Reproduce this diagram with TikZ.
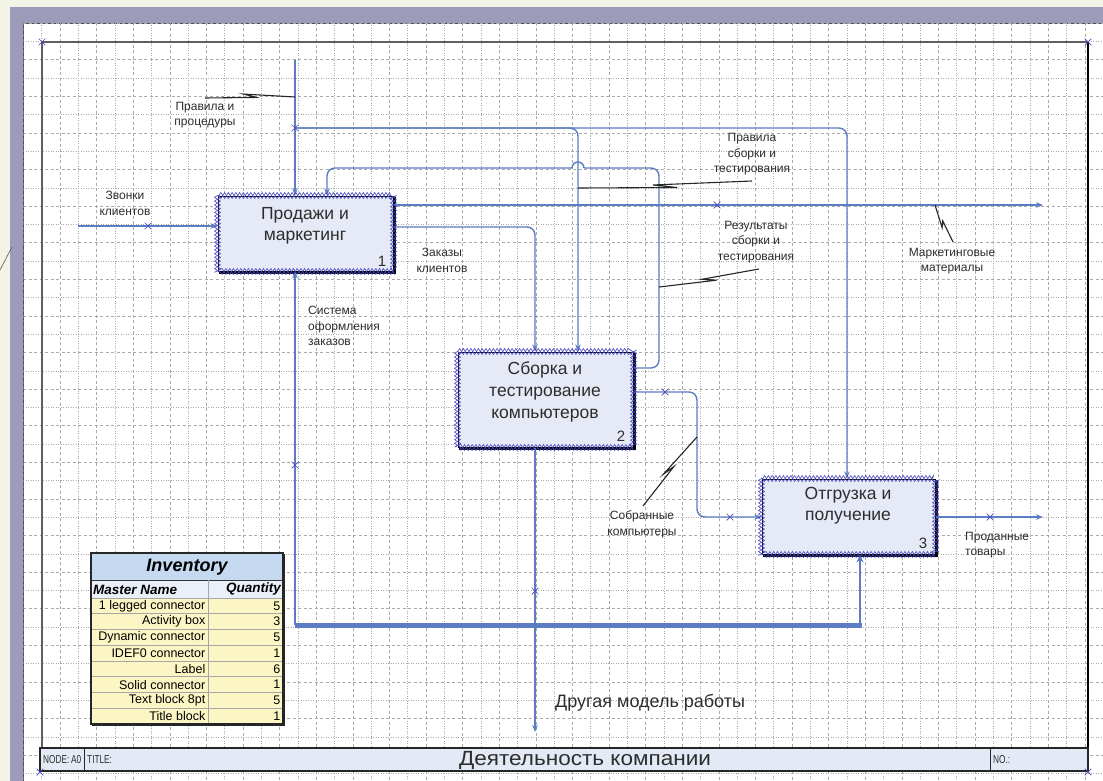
\documentclass[tikz,border=0pt]{standalone}
\usepackage{fontspec}
\usepackage{graphicx}
\setmainfont{Liberation Sans}
\usetikzlibrary{arrows.meta,calc,decorations.pathmorphing,shapes.misc}
\definecolor{cblue}{RGB}{92,124,196}
\definecolor{chainc}{RGB}{70,70,190}
\definecolor{boxfill}{RGB}{230,234,246}
\definecolor{beige}{RGB}{244,244,230}
\definecolor{band}{RGB}{156,156,186}
\definecolor{gridc}{RGB}{170,170,170}
\definecolor{tfill}{RGB}{228,234,245}
\definecolor{invtitle}{RGB}{197,217,241}
\definecolor{invhead}{RGB}{234,240,250}
\definecolor{invrow}{RGB}{252,246,196}
\definecolor{framec}{RGB}{95,95,95}
\definecolor{txt}{RGB}{45,45,45}
\newcommand\leadsq[2]{\draw[leadline] (#1) -- ($(#1)!0.57!(#2)$) -- ($(#1)!0.43!(#2)!3.5pt!90:(#2)$) -- (#2);}
\begin{document}
\begin{tikzpicture}[x=1pt,y=-1pt,
  conn/.style={draw=cblue,line width=1.4pt},
  arr/.style={-{Stealth[length=7pt,width=5.5pt]}},
  thickbar/.style={draw=cblue,line width=5pt},
  abox/.style={draw=black,line width=1pt,fill=boxfill,inner sep=0pt},
  xchainA/.style={draw=chainc,line width=0.6pt,decorate,decoration={zigzag,segment length=7.5pt,amplitude=3pt}},
  xchainB/.style={draw=chainc,line width=0.6pt,decorate,decoration={zigzag,segment length=7.5pt,amplitude=-3pt}},
  xmk/.style={draw=chainc,cross out,minimum size=6pt,inner sep=0pt,line width=0.7pt},
  boxtxt/.style={font=\fontsize{17.5}{21}\selectfont,align=center,inner sep=0pt,text=txt},
  numtxt/.style={font=\fontsize{15}{15}\selectfont,inner sep=0pt,text=txt},
  lbl/.style={font=\fontsize{12}{15.5}\selectfont,align=center,inner sep=0pt,text=txt},
  leadline/.style={draw=black!85,line width=1.1pt},
  gridA/.style={draw=gridc,line width=0.5pt,dash pattern=on 3pt off 2.5pt},
  gridB/.style={draw=gridc,line width=0.5pt,dash pattern=on 1pt off 1.5pt},
  bartxt/.style={font=\fontsize{11.5}{12}\selectfont,inner sep=0pt,text=txt},
  rowtxt/.style={font=\fontsize{12.5}{13}\selectfont,inner sep=0pt,text=black},
  headtxt/.style={font=\fontsize{13.5}{14}\bfseries\itshape\selectfont,inner sep=0pt,text=black}
]
\useasboundingbox (0,0) rectangle (1103,781);
% background and page
\fill[beige] (0,0) rectangle (1103,781);
\fill[band] (10,7) rectangle (1103,781);
\fill[white] (23,23) rectangle (1103,781);
\draw[black!70,line width=0.8pt] (23,781) -- (23,23) -- (1103,23);
\draw[gray!70!black,line width=0.6pt] (0,270) -- (12,247);
% grid
\begin{scope}
\clip (23.5,23.5) rectangle (1103,781);
\foreach \i in {0,...,59} {
  \pgfmathsetmacro\gx{23.4+18.3*\i}
  \ifodd\i \draw[gridB] (\gx,23) -- (\gx,781); \else \draw[gridA] (\gx,23) -- (\gx,781); \fi
}
\foreach \i in {0,...,42} {
  \pgfmathsetmacro\gy{23.1+18.3*\i}
  \ifodd\i \draw[gridB] (23,\gy) -- (1103,\gy); \else \draw[gridA] (23,\gy) -- (1103,\gy); \fi
}
\end{scope}
% frame
\draw[framec,line width=2.4pt] (42,42) -- (1088,42);
\draw[framec,line width=2.4pt] (42,42) -- (42,748);
\draw[black,line width=1.3pt] (1088,42) -- (1088,771);
% title bar
\draw[fill=tfill,draw=black!85,line width=1.1pt] (40,748) rectangle (1088,771);
\draw[black!85,line width=0.9pt] (84,748) -- (84,771);
\draw[black!85,line width=0.9pt] (990,748) -- (990,771);
\node[bartxt,anchor=west] (nodeL) at (43,760) {\scalebox{0.72}[1]{NODE:}};
\node[bartxt,anchor=west] (nodeV) at (71,760) {\scalebox{0.72}[1]{A0}};
\node[bartxt,anchor=west] (titleL) at (87,760) {\scalebox{0.72}[1]{TITLE:}};
\node[inner sep=0pt,text=txt,font=\fontsize{20.5}{22}\selectfont] (titleT) at (585,760) {\scalebox{1.1}[1]{Деятельность компании}};
\node[bartxt,anchor=west] (noL) at (993,760) {\scalebox{0.72}[1]{NO.:}};
\node[xmk] (fx1) at (42,42) {};
\node[xmk] (fx2) at (1088,42) {};
\node[xmk] (fx3) at (40,772) {};
\node[xmk] (fx4) at (1088,772) {};
% helper coordinates
\coordinate (x295) at (295,0);
\coordinate (x327) at (327,0);
\coordinate (x535) at (535,0);
\coordinate (x578) at (578,0);
\coordinate (x659) at (659,0);
\coordinate (x697) at (697,0);
\coordinate (x847) at (847,0);
\coordinate (x860) at (860,0);
\coordinate (y168) at (0,168);
\coordinate (y205) at (0,205);
\coordinate (y227) at (0,227);
\coordinate (y368) at (0,368);
\coordinate (y392) at (0,392);
\coordinate (y517) at (0,517);
% boxes
\node[abox,minimum width=175pt,minimum height=75pt] (b1) at (305.5,233.5) {};
\node[abox,minimum width=175pt,minimum height=95pt] (b2) at (545.5,399.5) {};
\node[abox,minimum width=173pt,minimum height=75pt] (b3) at (848.5,516.5) {};
\foreach \b in {b1,b2,b3} {
  \draw[black,line width=2pt] ($(\b.south west)+(1,1)$) -- ($(\b.south east)+(1,1)$) -- ($(\b.north east)+(1,1)$);
}
% connectors
\coordinate (in1) at (78,226);
\draw[conn,arr] (in1) -- (b1.west |- in1);
\coordinate (c1) at (295,60);
\draw[conn,arr] (c1) -- (b1.north -| c1);
\coordinate (j1) at (295,128);
\draw[conn,arr,rounded corners=8pt] (j1) -| (b2.north -| x578);
\draw[conn,arr,rounded corners=8pt] (j1) -| (b3.north -| x847);
\coordinate (h1) at (584,168);
\coordinate (h2) at (572,168);
\draw[conn,rounded corners=8pt] (b2.east |- y368) -- (x659 |- y368) -- (x659 |- y168) -- (h1);
\draw[conn] (h1) arc[start angle=0,end angle=-180,radius=6];
\draw[conn,arr,rounded corners=8pt] (h2) -- (x327 |- y168) -- (b1.north -| x327);
\coordinate (mo) at (1043,205);
\draw[conn,arr] (b1.east |- y205) -- (mo);
\draw[conn,arr,rounded corners=8pt] (b1.east |- y227) -| (b2.north -| x535);
\coordinate (m1) at (295,625);
\coordinate (m2) at (862,625);
\draw[conn,arr] (m1) -- (b1.south -| m1);
\draw[draw=cblue,line width=2.2pt,-{Stealth[length=8pt,width=7pt]}] (x860 |- m2) -- (b3.south -| x860);
\draw[thickbar] (m1) -- (m2);
\coordinate (o2) at (535,732);
\draw[conn,arr] (b2.south -| x535) -- (o2);
\draw[conn,arr,rounded corners=8pt] (b2.east |- y392) -- (x697 |- y392) -- (x697 |- y517) -- (b3.west |- y517);
\coordinate (o3) at (1043,517);
\draw[conn,arr] (b3.east |- y517) -- (o3);
% box chains
\foreach \b in {b1,b2,b3} {
  \draw[xchainA] (\b.north west) rectangle (\b.south east);
  \draw[xchainB] (\b.north west) rectangle (\b.south east);
}
% box texts
\node[boxtxt] (t1) at (305,226) {Продажи и\\маркетинг};
\node[boxtxt,font=\fontsize{17.5}{22}\selectfont] (t2) at (545,392) {Сборка и\\тестирование\\компьютеров};
\node[boxtxt] (t3) at (848,506) {Отгрузка и\\получение};
\node[numtxt] (n1) at (382,261) {1};
\node[numtxt] (n2) at (621,436) {2};
\node[numtxt] (n3) at (923,543) {3};
% x marks
\node[xmk] (xm1) at (148,226) {};
\node[xmk] (xm2) at (295,128) {};
\node[xmk] (xm3) at (295,465) {};
\node[xmk] (xm4) at (717,205) {};
\node[xmk] (xm5) at (535,591) {};
\node[xmk] (xm6) at (665,392) {};
\node[xmk] (xm7) at (730,517) {};
\node[xmk] (xm8) at (990,517) {};
% labels
\node[lbl] (l1) at (125,203.5) {Звонки\\клиентов};
\node[lbl] (l2) at (205,115) {Правила и\\процедуры};
\node[lbl] (l3) at (752,154.5) {Правила\\сборки и\\тестирования};
\node[lbl] (l4) at (756,242) {Результаты\\сборки и\\тестирования};
\node[lbl] (l5) at (952,261) {Маркетинговые\\материалы};
\node[lbl] (l6) at (442,260.5) {Заказы\\клиентов};
\node[lbl,align=left,anchor=north west] (l7) at (308,306) {Система\\оформления\\заказов};
\node[lbl] (l8) at (642,524.5) {Собранные\\компьютеры};
\node[lbl,align=left,anchor=north west] (l9) at (965,532) {Проданные\\товары};
\node[inner sep=0pt,text=txt,font=\fontsize{18}{20}\selectfont,anchor=west] (l10) at (555,703) {Другая модель работы};
% leaders
\coordinate (L1a) at (205,98);
\coordinate (L1b) at (295,97);
\leadsq{L1a}{L1b}
\coordinate (L2a) at (752,181);
\coordinate (L2b) at (578,188);
\leadsq{L2a}{L2b}
\coordinate (L3a) at (759,269);
\coordinate (L3b) at (659,287);
\leadsq{L3a}{L3b}
\coordinate (L4a) at (953,242);
\coordinate (L4b) at (935,205);
\leadsq{L4a}{L4b}
\coordinate (L5a) at (643,506);
\coordinate (L5b) at (697,437);
\leadsq{L5a}{L5b}
% inventory table
\fill[invtitle] (91,553) rectangle (283,580);
\fill[invhead] (91,580) rectangle (283,598);
\fill[invrow] (91,598) rectangle (283,724);
\foreach \k in {1,...,7} {
  \draw[gray!70,line width=0.6pt] (91,{598+15.75*\k}) -- (283,{598+15.75*\k});
}
\draw[black!80,line width=1pt] (91,580) -- (283,580);
\draw[gray!70,line width=0.8pt] (91,598) -- (283,598);
\draw[gray!70,line width=0.8pt] (208,580) -- (208,724);
\draw[black!85,line width=1.2pt] (91,553) rectangle (283,724);
\draw[black!85,line width=1.6pt] (92,725) -- (284,725) -- (284,554);
\node[inner sep=0pt,font=\fontsize{18}{18}\bfseries\itshape\selectfont] (invT) at (187,567) {Inventory};
\node[headtxt,anchor=west] (hMN) at (93,589.5) {Master Name};
\node[headtxt,anchor=east] (hQ) at (281,589.5) {Quantity};
\foreach \nm/\q [count=\i from 0] in {1 legged connector/5,Activity box/3,Dynamic connector/5,IDEF0 connector/1,Label/6,Solid connector/1,Text block 8pt/5,Title block/1} {
  \node[rowtxt,anchor=east] (rn\i) at (205.5,{598+15.75*\i+7.9}) {\nm};
  \node[rowtxt,anchor=east] (rq\i) at (280.5,{598+15.75*\i+7.9}) {\q};
}
\end{tikzpicture}
\end{document}
